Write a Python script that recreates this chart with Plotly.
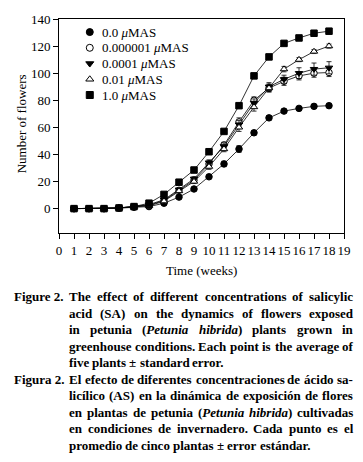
import plotly.graph_objects as go

# ---------------- data ----------------
weeks = list(range(1, 19))

series_names = ["0.0 <i>μ</i>MAS", "0.000001 <i>μ</i>MAS", "0.0001 <i>μ</i>MAS",
                "0.01 <i>μ</i>MAS", "1.0 <i>μ</i>MAS"]

sa_0 = [0, 0, 0, 0.3, 1, 1.5, 4, 8.5, 14.5, 23.5, 33, 44, 56, 67, 72, 74, 75.5, 76]
err_0 = [0, 0, 0, 0, 0.3, 0.3, 0.5, 0.8, 1, 1, 2, 2.5, 1.5, 1.5, 1, 1, 1, 1]

sa_1e6 = [0, 0, 0, 0.5, 1.5, 2.5, 6, 13.5, 21, 33, 47, 64, 80, 89, 94, 98, 100, 100.5]
err_1e6 = [0, 0, 0, 0, 0.3, 0.5, 0.8, 1, 1.5, 2, 2, 3, 2.5, 3, 3, 3, 3, 3]

sa_1e4 = [0, 0, 0, 0.5, 1.5, 3, 6.5, 14, 22, 34, 46, 62, 78, 90, 95.5, 100, 103, 104]
err_1e4 = [0, 0, 0, 0, 0.3, 0.5, 0.8, 1, 1.5, 2, 2.5, 3, 3, 3, 3, 4, 4.5, 4.5]

sa_1e2 = [0, 0, 0, 0.5, 1.5, 2, 5.5, 13, 20, 31, 44, 60, 75, 89, 103, 110, 116, 120]
err_1e2 = [0, 0, 0, 0, 0.3, 0.5, 0.8, 1, 1.5, 2, 2, 3, 3, 2.5, 2, 1.5, 1.5, 1.5]

sa_1 = [0, 0, 0, 0.5, 1.5, 4, 10.5, 19.5, 28.5, 42, 57, 76, 98, 112, 122, 126, 129.5, 131]
err_1 = [0, 0, 0, 0, 0.3, 0.3, 0.5, 0.8, 0.8, 1, 1, 1, 1, 1, 1, 1, 1, 1]

x_ticks = list(range(0, 20))
y_ticks = [0, 20, 40, 60, 80, 100, 120, 140]

caption_en = [
    ("Figure 2.", "The effect of different concentrations of salicylic", True),
    ("", "acid (SA) on the dynamics of flowers exposed", True),
    ("", "in petunia (<i>Petunia hibrida</i>) plants grown in", True),
    ("", "greenhouse conditions. Each point is the average of", True),
    ("", "five plants ± standard error.", False),
]
caption_es = [
    ("Figura 2.", "El efecto de diferentes concentraciones de ácido sa-", True),
    ("", "licílico (AS) en la dinámica de exposición de flores", True),
    ("", "en plantas de petunia (<i>Petunia hibrida</i>) cultivadas", True),
    ("", "en condiciones de invernadero. Cada punto es el", True),
    ("", "promedio de cinco plantas ± error estándar.", False),
]

# ---------------- styling ----------------
W, H = 363, 462
L, R, T, B = 59, 17, 12, 229
PW, PH = W - L - R, H - T - B
SERIF = "Liberation Serif, Times New Roman, serif"

styles = [
    dict(symbol="circle", color="black", lc="black"),
    dict(symbol="circle", color="white", lc="black"),
    dict(symbol="triangle-down", color="black", lc="black"),
    dict(symbol="triangle-up", color="white", lc="black"),
    dict(symbol="square", color="black", lc="black"),
]
all_y = [sa_0, sa_1e6, sa_1e4, sa_1e2, sa_1]
all_e = [err_0, err_1e6, err_1e4, err_1e2, err_1]

fig = go.Figure()
for name, ys, es, st in zip(series_names, all_y, all_e, styles):
    fig.add_trace(go.Scatter(
        x=weeks, y=ys, mode="lines+markers", name=name, showlegend=False,
        line=dict(color="black", width=0.8),
        marker=dict(symbol=st["symbol"], size=6.5, color=st["color"],
                    line=dict(color=st["lc"], width=1)),
        error_y=dict(type="data", array=es, visible=True, color="black",
                     thickness=0.8, width=2.5),
    ))

# ----- custom legend (markers on an overlay axis in plot-fraction units) -----
def fx(px):
    return (px - L) / PW

def fy(py):
    return (T + PH - py) / PH

leg_mx, leg_tx = 90, 102
leg_rows = [25.5 + 16.25 * i for i in range(5)]
for name, st, ry in zip(series_names, styles, leg_rows):
    fig.add_trace(go.Scatter(
        x=[fx(leg_mx)], y=[fy(ry)], xaxis="x2", yaxis="y2", mode="markers",
        showlegend=False, hoverinfo="skip",
        marker=dict(symbol=st["symbol"], size=7, color=st["color"],
                    line=dict(color=st["lc"], width=1)),
    ))
    fig.add_annotation(x=fx(leg_tx), y=fy(ry), xref="paper", yref="paper",
                       text=name, showarrow=False, xanchor="left", yanchor="middle",
                       borderpad=0, borderwidth=0,
                       font=dict(family=SERIF, size=13, color="black"))

# ----- axis titles -----
fig.add_annotation(x=fx(203), y=fy(272), xref="paper", yref="paper", text="Time (weeks)",
                   showarrow=False, xanchor="center", yanchor="middle",
                   font=dict(family=SERIF, size=13, color="black"))
fig.add_annotation(x=fx(21.5), y=fy(120), xref="paper", yref="paper", text="Number of flowers",
                   showarrow=False, xanchor="center", yanchor="middle", textangle=-90,
                   font=dict(family=SERIF, size=13, color="black"))

# ----- caption, justified by Times-Bold metrics -----
BOLD = dict(zip(" !(),-.:", [250, 333, 333, 333, 250, 333, 250, 333]))
BOLD.update({str(d): 500 for d in range(10)})
BOLD.update(dict(zip("ABCDEFGHIJKLMNOPQRSTUVWXYZ",
                     [722, 667, 722, 722, 667, 611, 778, 778, 389, 500, 778, 667, 944,
                      722, 778, 611, 778, 722, 556, 667, 722, 722, 1000, 722, 722, 667])))
BOLD.update(dict(zip("abcdefghijklmnopqrstuvwxyz",
                     [500, 556, 444, 556, 444, 333, 500, 556, 278, 333, 556, 278, 833,
                      556, 500, 556, 556, 444, 389, 333, 556, 500, 722, 500, 500, 444])))
BOLD.update({"á": 500, "é": 444, "í": 278, "ó": 500, "±": 570})
BOLDIT = dict(BOLD)
BOLDIT.update({"P": 611, "b": 500, "d": 500, "r": 389, "t": 278, "e": 444, "a": 500,
               "h": 556, "i": 278, "n": 556, "u": 556})

CAP_SIZE = 13


def parse_word(word, italic):
    """Return (html, width_px, italic_after)."""
    width = 0.0
    html = "<i>" if italic else ""
    i = 0
    while i < len(word):
        if word.startswith("<i>", i):
            italic = True
            html += "<i>"
            i += 3
            continue
        if word.startswith("</i>", i):
            italic = False
            html += "</i>"
            i += 4
            continue
        ch = word[i]
        width += (BOLDIT if italic else BOLD).get(ch, 500) * CAP_SIZE / 1000
        html += ch
        i += 1
    if italic:
        html += "</i>"
    return html, width, italic


def add_caption_line(label, body, justify, py, x_label=14, x0=69, x1=355):
    if label:
        fig.add_annotation(x=fx(x_label), y=fy(py), xref="paper", yref="paper",
                           text="<b>%s</b>" % label, showarrow=False,
                           xanchor="left", yanchor="middle", borderpad=0, borderwidth=0,
                           font=dict(family=SERIF, size=CAP_SIZE, color="black"))
    words = body.split(" ")
    parsed = []
    italic = False
    for w in words:
        h, wd, italic = parse_word(w, italic)
        parsed.append((h, wd))
    total = sum(wd for _, wd in parsed)
    if justify and len(parsed) > 1:
        gap = (x1 - x0 - total) / (len(parsed) - 1)
    else:
        gap = 250 * CAP_SIZE / 1000
    x = x0
    for h, wd in parsed:
        fig.add_annotation(x=fx(x), y=fy(py), xref="paper", yref="paper",
                           text="<b>%s</b>" % h, showarrow=False,
                           xanchor="left", yanchor="middle", borderpad=0, borderwidth=0,
                           font=dict(family=SERIF, size=CAP_SIZE, color="black"))
        x += wd + gap


for i, (lab, body, just) in enumerate(caption_en + caption_es):
    add_caption_line(lab, body, just, 299 + 17 * i)

axis_common = dict(showline=True, linecolor="black", linewidth=1, mirror=True,
                   ticks="outside", ticklen=5, tickwidth=1, tickcolor="black",
                   showgrid=False, zeroline=False, tickangle=0,
                   tickfont=dict(family=SERIF, size=13, color="black"))

fig.update_layout(
    width=W, height=H,
    margin=dict(l=L, r=R, t=T, b=B, pad=0),
    paper_bgcolor="white", plot_bgcolor="white",
    showlegend=False,
    xaxis=dict(range=[0, 19], tickvals=x_ticks, ticktext=[str(v) for v in x_ticks],
               **axis_common),
    yaxis=dict(range=[-18, 140], tickvals=y_ticks, **axis_common),
    xaxis2=dict(overlaying="x", range=[0, 1], visible=False, anchor="y2"),
    yaxis2=dict(overlaying="y", range=[0, 1], visible=False, anchor="x2"),
)

fig.write_html("out.html", config={"displayModeBar": False},
               post_script="document.body.style.margin='0';")
